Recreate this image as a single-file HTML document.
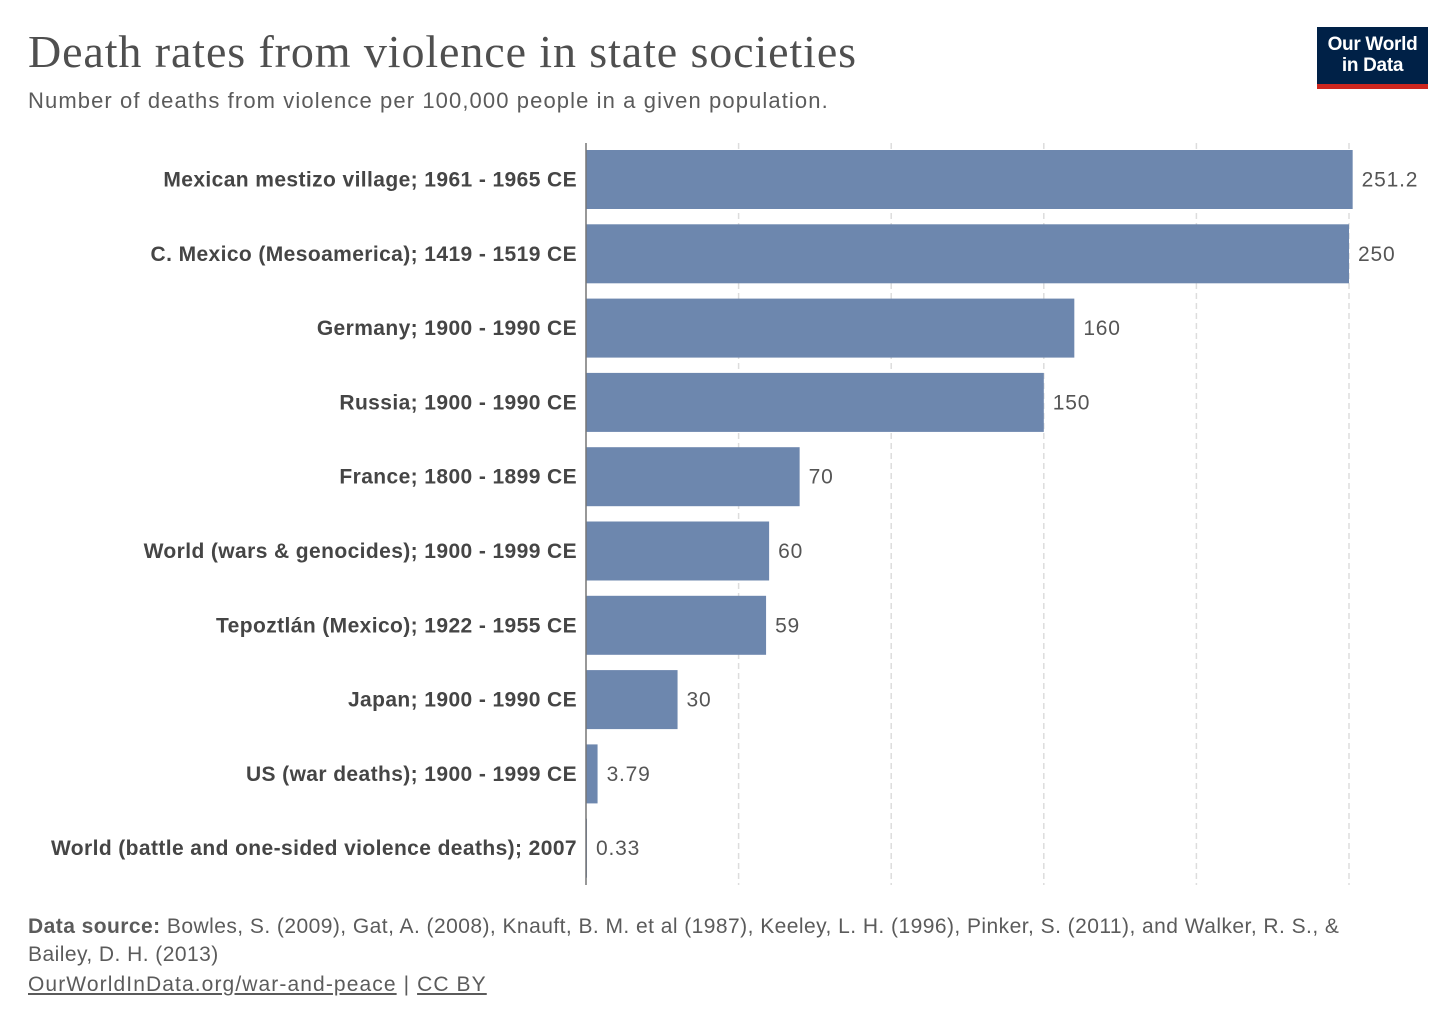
<!DOCTYPE html>
<html><head><meta charset="utf-8"><style>
body{margin:0;background:#fff;width:1456px;height:1028px;overflow:hidden;font-family:"Liberation Sans",sans-serif;}
.t{position:absolute;white-space:nowrap;}
</style></head><body>
<div class="t" style="left:28px;top:25px;font-family:'Liberation Serif',serif;font-size:46px;letter-spacing:0.9px;color:#4f4f4f;">Death rates from violence in state societies</div>
<div class="t" style="left:28px;top:88px;font-size:22px;letter-spacing:1.1px;color:#5b5b5b;">Number of deaths from violence per 100,000 people in a given population.</div>
<div style="position:absolute;left:1317px;top:27px;width:111px;height:62px;background:#002147;">
<div style="position:absolute;left:0;right:0;bottom:0;height:5px;background:#ce261e"></div>
<div style="position:absolute;top:7px;width:111px;text-align:center;color:#fff;font-size:19px;line-height:21px;font-weight:bold;letter-spacing:-0.3px;">Our World<br>in Data</div></div>
<svg id="chart" width="1456" height="1028" style="position:absolute;left:0;top:0"></svg>
<div class="t" style="left:28px;top:913px;font-size:21px;letter-spacing:0.45px;line-height:28px;color:#5b5b5b;white-space:normal;width:1340px;"><b>Data source:</b> Bowles, S. (2009), Gat, A. (2008), Knauft, B. M. et al (1987), Keeley, L. H. (1996), Pinker, S. (2011), and Walker, R. S., &amp; Bailey, D. H. (2013)</div>
<div class="t" style="left:28px;top:973px;font-size:21px;letter-spacing:1.1px;color:#5b5b5b;"><u>OurWorldInData.org/war-and-peace</u> | <u>CC BY</u></div>
<script>
const categories=["Mexican mestizo village; 1961 - 1965 CE","C. Mexico (Mesoamerica); 1419 - 1519 CE","Germany; 1900 - 1990 CE","Russia; 1900 - 1990 CE","France; 1800 - 1899 CE","World (wars & genocides); 1900 - 1999 CE","Tepoztlán (Mexico); 1922 - 1955 CE","Japan; 1900 - 1990 CE","US (war deaths); 1900 - 1999 CE","World (battle and one-sided violence deaths); 2007"];
const values=[251.2,250,160,150,70,60,59,30,3.79,0.33];
const valueLabels=["251.2","250","160","150","70","60","59","30","3.79","0.33"];
const gridTicks=[50,100,150,200,250];
const svg=document.getElementById('chart');const NS='http://www.w3.org/2000/svg';
const x0=586,pxPer=(1349-586)/250;const xs=v=>x0+v*pxPer;
const yTop=143,step=74.3,barH=59;const yc=i=>179.5+i*step;
function mk(t,a){const e=document.createElementNS(NS,t);for(const k in a)e.setAttribute(k,a[k]);svg.appendChild(e);return e;}
gridTicks.forEach(g=>{const l=mk('line',{x1:xs(g),x2:xs(g),y1:yTop,y2:885,stroke:'#ddd','stroke-dasharray':'6,4','stroke-width':1.5});

});
categories.forEach((c,i)=>{
const r=mk('rect',{x:x0,y:yc(i)-barH/2,width:Math.max(values[i]*pxPer,0.8),height:barH,fill:'#6d87ae'});


const lb=mk('text',{x:577,y:yc(i)+7,'text-anchor':'end','font-size':21,'font-weight':'bold','letter-spacing':0.4,fill:'#454545','font-family':'Liberation Sans,sans-serif'});lb.textContent=c;


const v=mk('text',{x:xs(values[i])+9,y:yc(i)+7,'font-size':21,'letter-spacing':0.8,fill:'#555','font-family':'Liberation Sans,sans-serif'});v.textContent=valueLabels[i];

});
const ax=mk('line',{x1:x0,x2:x0,y1:yTop,y2:885,stroke:'#777','stroke-width':1.5});


</script>
</body></html>
